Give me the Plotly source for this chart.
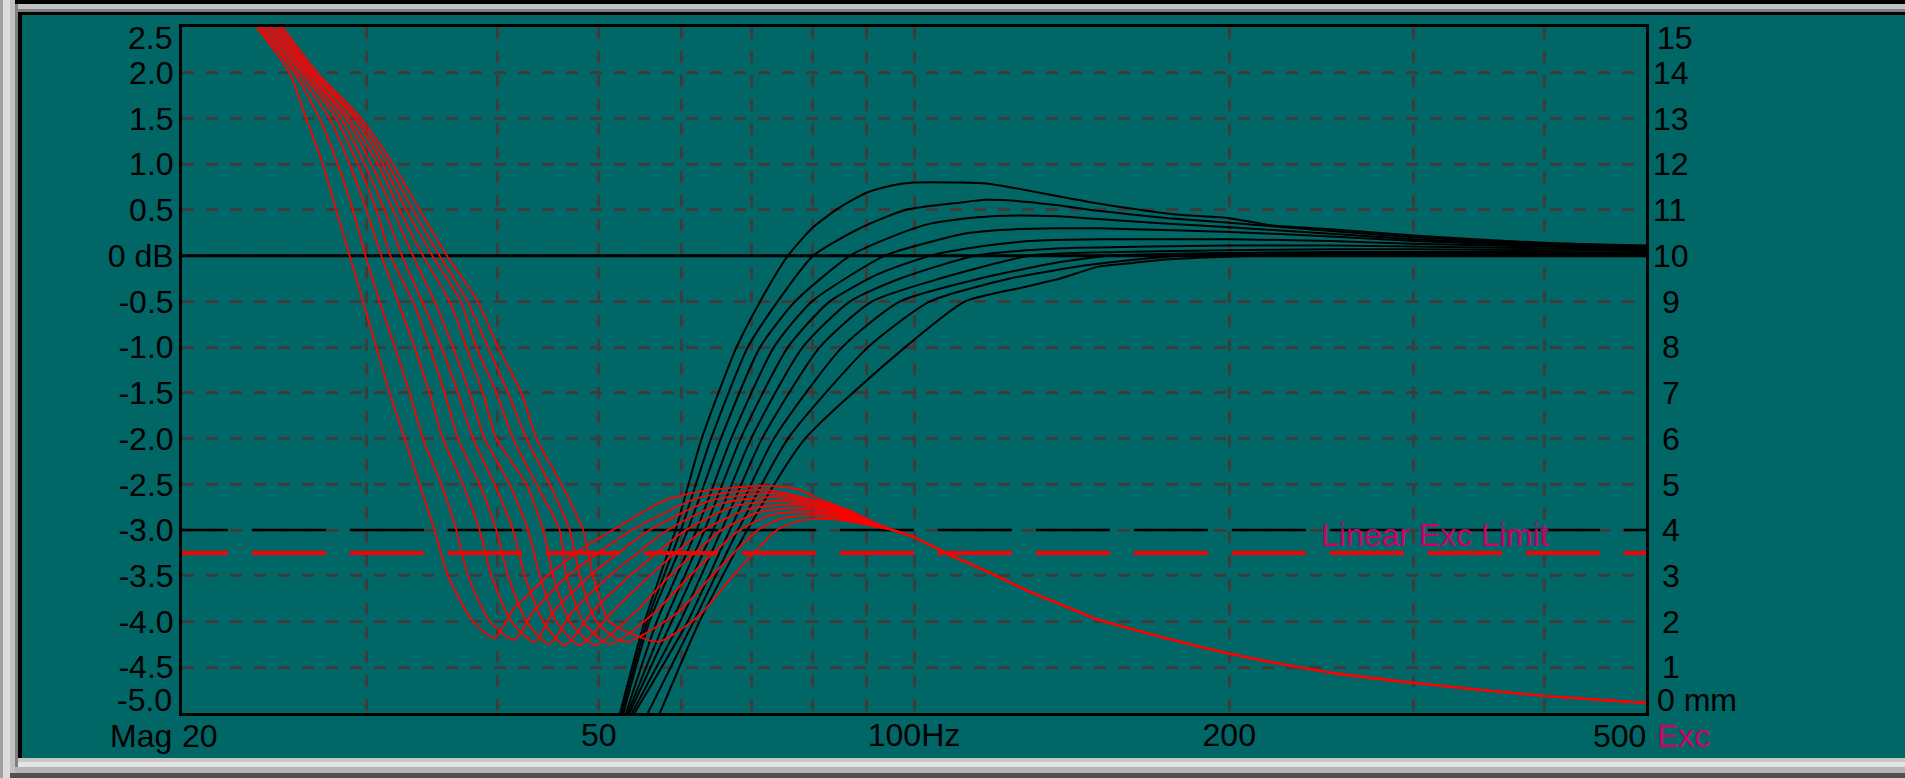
import math
import plotly.graph_objects as go

# ---------------- axes / ticks ----------------
freq_min, freq_max = 20, 500
grid_hz = [30, 40, 50, 60, 70, 80, 90, 100, 200, 300, 400]
grid_labels = ["", "", "50", "", "", "", "", "100Hz", "200", "", ""]
mag_range = [-5.0, 2.5]
mag_ticks = [2.0, 1.5, 1.0, 0.5, 0.0, -0.5, -1.0, -1.5, -2.0, -2.5, -3.0, -3.5, -4.0, -4.5]
mag_tick_labels = ["2.0", "1.5", "1.0", "0.5", "0 dB", "-0.5", "-1.0", "-1.5", "-2.0",
                   "-2.5", "-3.0", "-3.5", "-4.0", "-4.5"]
exc_range = [0, 15]
exc_ticks = [1, 2, 3, 4, 5, 6, 7, 8, 9, 10, 11, 12, 13, 14]
exc_tick_labels = ["\u00a01", "\u00a02", "\u00a03", "\u00a04", "\u00a05", "\u00a06", "\u00a07",
                   "\u00a08", "\u00a09", "10", "11", "12", "13", "14"]

# reference lines
mag_zero_db = 0.0
mag_ref_db = -3.0
exc_limit_mm = 3.5
ref_line_hz = [18.8, 500]

# ---------------- magnitude curves (dB) ----------------
mag_1_hz = [52.4, 55.3, 59.2, 62.7, 67.7, 71.3, 75.8, 80.1, 85.0, 90.2, 95.5, 100, 110.7, 117.4,
            124.6, 137.3, 150, 178, 200, 220, 250, 300, 400, 500]
mag_1_db = [-5.0, -4.0, -3.0, -2.0, -1.0, -0.5, 0.0, 0.31, 0.53, 0.69, 0.77, 0.80, 0.80, 0.79,
            0.74, 0.65, 0.57, 0.45, 0.41, 0.33, 0.29, 0.22, 0.14, 0.11]
mag_2_hz = [52.6, 55.6, 59.9, 64.0, 69.4, 74.1, 80.1, 88.8, 98.1, 110.7, 117.0, 124.6, 137.3, 150,
            175, 200, 250, 300, 400, 500]
mag_2_db = [-5.0, -4.0, -3.0, -2.0, -1.0, -0.5, 0.0, 0.30, 0.50, 0.58, 0.61, 0.60, 0.55, 0.49,
            0.41, 0.36, 0.27, 0.20, 0.13, 0.10]
mag_3_hz = [52.8, 55.9, 60.8, 65.4, 71.3, 77.0, 86.9, 94.9, 103.6, 115, 125, 137.3, 150, 175, 200,
            250, 300, 400, 500]
mag_3_db = [-5.0, -4.0, -3.0, -2.0, -1.0, -0.5, 0.0, 0.20, 0.35, 0.42, 0.44, 0.43, 0.40, 0.35, 0.31,
            0.24, 0.18, 0.12, 0.09]
mag_4_hz = [53.1, 56.8, 62.0, 66.9, 73.5, 79.9, 93.8, 103.6, 113.1, 125, 137, 150, 162, 200, 250,
            300, 400, 500]
mag_4_db = [-5.0, -4.0, -3.0, -2.0, -1.0, -0.5, 0.0, 0.15, 0.25, 0.29, 0.30, 0.30, 0.29, 0.26, 0.21,
            0.16, 0.11, 0.08]
mag_5_hz = [53.3, 57.8, 63.1, 68.3, 75.8, 83.1, 92.5, 103.6, 115.6, 129, 150, 175, 200, 250, 300,
            400, 500]
mag_5_db = [-5.0, -4.0, -3.0, -2.0, -1.0, -0.5, -0.2, 0.0, 0.10, 0.16, 0.18, 0.18, 0.18, 0.16, 0.13,
            0.10, 0.07]
mag_6_hz = [53.5, 58.7, 64.3, 69.9, 78.3, 86.9, 97.0, 114.4, 138, 168, 200, 250, 300, 400, 500]
mag_6_db = [-5.0, -4.0, -3.0, -2.0, -1.0, -0.5, -0.25, 0.0, 0.08, 0.10, 0.11, 0.11, 0.10, 0.08, 0.06]
mag_7_hz = [53.8, 59.8, 65.5, 71.6, 81.3, 91.2, 105.9, 129.1, 157, 200, 250, 300, 400, 500]
mag_7_db = [-5.0, -4.0, -3.0, -2.0, -1.0, -0.5, -0.25, 0.0, 0.04, 0.06, 0.07, 0.07, 0.06, 0.05]
mag_8_hz = [54.1, 60.8, 66.7, 73.5, 85.4, 97.0, 115.6, 137.9, 153.9, 200, 250, 300, 400, 500]
mag_8_db = [-5.0, -4.0, -3.0, -2.0, -1.0, -0.5, -0.25, -0.07, 0.0, 0.03, 0.04, 0.04, 0.04, 0.03]
mag_9_hz = [55.7, 61.6, 67.9, 75.8, 90.4, 103.6, 123.5, 147.3, 179.6, 250, 300, 400, 500]
mag_9_db = [-5.0, -4.0, -3.0, -2.0, -1.0, -0.5, -0.25, -0.10, 0.0, 0.02, 0.02, 0.02, 0.02]
mag_10_hz = [57.2, 62.4, 69.3, 78.7, 98.1, 111.9, 126.6, 137.9, 150, 161.9, 175, 214.6, 300, 400, 500]
mag_10_db = [-5.0, -4.0, -3.0, -2.0, -1.0, -0.5, -0.35, -0.25, -0.12, -0.08, -0.04, 0.0, 0.0, 0.01,
             0.01]

# ---------------- excursion curves (mm) ----------------
exc_1_hz = [23.56, 25.33, 26.28, 27.26, 28.07, 28.91, 29.77, 30.66, 31.57, 32.63, 33.72, 34.85, 35.89,
            37.92, 39.77, 41.41, 42.96, 44.57, 47.95, 51.56, 55.53, 58.03, 62.4, 68.19, 73.65, 77.82,
            80.1, 83.68, 87.44, 91.38, 95.5, 99.6]
exc_1_mm = [15, 14, 13, 12, 11, 10, 9, 8, 7, 6, 5, 4, 3, 2, 1.64, 2.26, 2.62, 2.98, 3.56, 4.0, 4.44,
            4.66, 4.84, 4.94, 4.96, 4.88, 4.74, 4.56, 4.40, 4.18, 4.0, 3.86]
exc_2_hz = [23.66, 25.61, 27.06, 28.17, 29.12, 29.94, 30.88, 31.92, 32.99, 33.97, 35.37, 36.56, 37.50,
            39.34, 41.56, 43.24, 46.70, 53.77, 62.17, 72.05, 85.0, 90.0, 95.5, 99.6]
exc_2_mm = [15, 14, 13, 12, 11, 10, 9, 8, 7, 6, 5, 4, 3, 2, 1.60, 2.2, 3.0, 4.0, 4.70, 4.88, 4.49,
            4.22, 4.0, 3.86]
exc_3_hz = [23.82, 25.78, 27.66, 28.91, 29.99, 31.00, 32.15, 33.35, 34.47, 35.50, 37.09, 38.48, 39.48,
            41.26, 43.44, 45.19, 49.02, 55.94, 63.83, 72.85, 85.0, 90.0, 95.5, 99.6]
exc_3_mm = [15, 14, 13, 12, 11, 10, 9, 8, 7, 6, 5, 4, 3, 2, 1.55, 2.2, 3.0, 4.0, 4.64, 4.80, 4.46,
            4.20, 4.0, 3.86]
exc_4_hz = [23.98, 26.01, 28.07, 29.44, 30.66, 31.62, 33.23, 34.47, 35.63, 36.69, 38.48, 39.92, 40.96,
            42.65, 44.89, 47.12, 51.22, 58.20, 65.47, 73.65, 85.0, 90.0, 95.5, 99.6]
exc_4_mm = [15, 14, 13, 12, 11, 10, 9, 8, 7, 6, 5, 4, 3, 2, 1.50, 2.2, 3.0, 4.0, 4.58, 4.72, 4.43,
            4.18, 4.0, 3.86]
exc_5_hz = [24.13, 26.18, 28.38, 29.88, 31.22, 32.43, 33.92, 35.37, 36.69, 37.92, 39.77, 41.41, 42.49,
            44.23, 46.40, 49.24, 53.53, 60.55, 67.15, 74.47, 85.0, 90.0, 95.5, 99.6]
exc_5_mm = [15, 14, 13, 12, 11, 10, 9, 8, 7, 6, 5, 4, 3, 2, 1.48, 2.2, 3.0, 4.0, 4.51, 4.64, 4.40,
            4.16, 4.0, 3.86]
exc_6_hz = [24.29, 26.36, 28.70, 30.32, 31.80, 33.23, 34.85, 36.29, 37.64, 38.91, 41.10, 42.80, 43.92,
            45.56, 47.95, 51.45, 55.94, 63.0, 69.3, 76.12, 85.0, 90.0, 95.5, 99.6]
exc_6_mm = [15, 14, 13, 12, 11, 10, 9, 8, 7, 6, 5, 4, 3, 2, 1.48, 2.2, 3.0, 4.0, 4.45, 4.56, 4.37,
            4.15, 4.0, 3.86]
exc_7_hz = [24.46, 26.47, 28.91, 30.77, 32.27, 33.97, 36.02, 37.37, 38.76, 39.92, 42.65, 44.23, 45.22,
            46.91, 49.56, 54.12, 58.46, 65.54, 70.95, 76.96, 85.0, 90.0, 95.5, 99.6]
exc_7_mm = [15, 14, 13, 12, 11, 10, 9, 8, 7, 6, 5, 4, 3, 2, 1.48, 2.2, 3.0, 4.0, 4.38, 4.48, 4.33,
            4.14, 4.0, 3.86]
exc_8_hz = [24.62, 26.65, 29.23, 31.11, 32.75, 34.68, 36.91, 38.20, 39.92, 41.41, 43.60, 45.89, 46.57,
            48.30, 51.22, 56.56, 61.09, 68.19, 72.85, 77.82, 85.0, 90.0, 95.5, 99.6]
exc_8_mm = [15, 14, 13, 12, 11, 10, 9, 8, 7, 6, 5, 4, 3, 2, 1.50, 2.2, 3.0, 4.0, 4.32, 4.40, 4.30,
            4.13, 4.0, 3.86]
exc_9_hz = [24.78, 26.76, 29.44, 31.45, 33.23, 35.24, 37.48, 39.19, 40.96, 42.65, 44.89, 46.91, 47.95,
            49.75, 52.94, 59.49, 64.12, 70.95, 74.96, 79.20, 85.0, 90.0, 95.5, 99.6]
exc_9_mm = [15, 14, 13, 12, 11, 10, 9, 8, 7, 6, 5, 4, 3, 2, 1.55, 2.2, 3.0, 4.0, 4.26, 4.32, 4.26,
            4.12, 4.0, 3.86]
exc_10_hz = [24.94, 26.94, 29.66, 31.80, 33.72, 35.81, 38.31, 40.06, 42.18, 43.60, 46.06, 48.30, 49.38,
             51.22, 57.0, 62.4, 67.15, 73.98, 77.31, 80.78, 85.0, 90.0, 95.5, 99.6]
exc_10_mm = [15, 14, 13, 12, 11, 10, 9, 8, 7, 6, 5, 4, 3, 2, 1.56, 2.14, 3.0, 4.0, 4.19, 4.24, 4.22,
             4.12, 4.0, 3.86]
# common high-frequency part shared by all excursion curves
exc_tail_hz = [104.3, 108.9, 113.8, 120.8, 129.9, 140.0, 148.3, 171, 200, 250, 300, 350, 407, 450, 500]
exc_tail_mm = [3.64, 3.42, 3.24, 2.96, 2.62, 2.32, 2.08, 1.68, 1.30, 0.88, 0.66, 0.50, 0.36, 0.29, 0.22]

# ---------------- styling ----------------
TEAL = "#006666"
GRID = "#3c3c3c"
MAGENTA = "#cc0066"
RED = "#ff0000"
FONT = "Liberation Sans, Arial, sans-serif"
W, H = 1905, 778
PL, PR, PT, PB = 182, 1646, 27, 713

mag_curves = [(mag_1_hz, mag_1_db), (mag_2_hz, mag_2_db), (mag_3_hz, mag_3_db), (mag_4_hz, mag_4_db),
              (mag_5_hz, mag_5_db), (mag_6_hz, mag_6_db), (mag_7_hz, mag_7_db), (mag_8_hz, mag_8_db),
              (mag_9_hz, mag_9_db), (mag_10_hz, mag_10_db)]
exc_curves = [(exc_1_hz, exc_1_mm), (exc_2_hz, exc_2_mm), (exc_3_hz, exc_3_mm), (exc_4_hz, exc_4_mm),
              (exc_5_hz, exc_5_mm), (exc_6_hz, exc_6_mm), (exc_7_hz, exc_7_mm), (exc_8_hz, exc_8_mm),
              (exc_9_hz, exc_9_mm), (exc_10_hz, exc_10_mm)]

fig = go.Figure()

# reference lines (drawn first, under the curves)
fig.add_trace(go.Scatter(x=ref_line_hz, y=[mag_zero_db] * 2, mode="lines",
                         line=dict(color="black", width=3), yaxis="y", hoverinfo="skip"))
fig.add_trace(go.Scatter(x=ref_line_hz, y=[mag_ref_db] * 2, mode="lines",
                         line=dict(color="black", width=2.5, dash="74px,24px"), yaxis="y",
                         hoverinfo="skip"))
fig.add_trace(go.Scatter(x=ref_line_hz, y=[exc_limit_mm] * 2, mode="lines",
                         line=dict(color=RED, width=4, dash="74px,24px"), yaxis="y2",
                         hoverinfo="skip"))

for hz, mm in exc_curves:
    fig.add_trace(go.Scatter(x=hz + exc_tail_hz, y=mm + exc_tail_mm, mode="lines", yaxis="y2",
                             line=dict(color=RED, width=1.8, shape="spline", smoothing=0.6)))
for hz, db in mag_curves:
    fig.add_trace(go.Scatter(x=hz, y=db, mode="lines", yaxis="y",
                             line=dict(color="black", width=2, shape="spline", smoothing=0.6)))


def px_x(px):
    return (px - PL) / (PR - PL)


def px_y(py):
    return (PB - py) / (PB - PT)


def rect(x0, x1, y0, y1, color):
    fig.add_shape(type="rect", xref="paper", yref="paper", x0=px_x(x0), x1=px_x(x1),
                  y0=px_y(y1), y1=px_y(y0), fillcolor=color, line=dict(width=0), layer="above")


# window frame
rect(0, W, 0, 4, "#000000")
rect(0, W, 4, 9, "#c0c0c0")
rect(0, W, 9, 12, "#808080")
rect(0, W, 12, 15, "#000000")
rect(0, W, 758, 762, "#c8c8c8")
rect(0, W, 762, 767, "#e4e4e4")
rect(0, W, 767, 773, "#b4b4b4")
rect(0, W, 773, H, "#505050")
rect(0, 3, 0, H, "#a0a0a0")
rect(3, 10, 0, H, "#dcdcdc")
rect(10, 15, 0, 773, "#c0c0c0")
rect(15, 18, 4, 767, "#808080")
rect(18, 22, 12, 758, "#000000")

label_font = dict(family=FONT, size=32, color="black")
ann = []
# edge tick labels (pulled inside like the original)
ann.append(dict(text="2.5", xref="paper", x=0, xanchor="right", xshift=-8, yref="y", y=mag_range[1],
                yanchor="middle", yshift=-11, showarrow=False, font=label_font))
ann.append(dict(text="-5.0", xref="paper", x=0, xanchor="right", xshift=-8, yref="y", y=mag_range[0],
                yanchor="middle", yshift=13, showarrow=False, font=label_font))
ann.append(dict(text="15", xref="paper", x=1, xanchor="left", xshift=9, yref="y2", y=exc_range[1],
                yanchor="middle", yshift=-11, showarrow=False, font=label_font))
ann.append(dict(text="0 mm", xref="paper", x=1, xanchor="left", xshift=9, yref="y2", y=exc_range[0],
                yanchor="middle", yshift=13, showarrow=False, font=label_font))
ann.append(dict(text="20", xref="x", x=math.log10(freq_min), xanchor="left", xshift=-2,
                yref="paper", y=0, yanchor="middle", yshift=-23, showarrow=False, font=label_font))
ann.append(dict(text="500", xref="x", x=math.log10(freq_max), xanchor="right", xshift=2,
                yref="paper", y=0, yanchor="middle", yshift=-23, showarrow=False, font=label_font))
ann.append(dict(text="Mag", xref="x", x=math.log10(freq_min), xanchor="right", xshift=-8,
                yref="paper", y=0, yanchor="middle", yshift=-23, showarrow=False, font=label_font))
ann.append(dict(text="Exc", xref="paper", x=1, xanchor="left", xshift=9,
                yref="paper", y=0, yanchor="middle", yshift=-23, showarrow=False,
                font=dict(family=FONT, size=32, color=MAGENTA)))
ann.append(dict(text="Linear Exc Limit", xref="x", x=math.log10(400), xanchor="right", xshift=6,
                yref="y2", y=4, yanchor="middle", yshift=-5, showarrow=False,
                font=dict(family=FONT, size=32, color=MAGENTA)))

fig.update_layout(
    template="none",
    width=W, height=H,
    margin=dict(l=PL, r=W - PR, t=PT, b=H - PB, pad=0, autoexpand=False),
    paper_bgcolor=TEAL, plot_bgcolor=TEAL,
    showlegend=False,
    font=label_font,
    annotations=ann,
    xaxis=dict(type="log", range=[math.log10(freq_min), math.log10(freq_max)],
               tickmode="array", tickvals=grid_hz, ticktext=grid_labels,
               showgrid=True, gridcolor=GRID, gridwidth=3, griddash="12px,12px",
               showline=True, linecolor="black", linewidth=3, mirror=True,
               ticks="", zeroline=False, automargin=False, ticklabelstandoff=-8,
               tickfont=label_font),
    yaxis=dict(range=mag_range, tickmode="array", tickvals=mag_ticks, ticktext=mag_tick_labels,
               showgrid=True, gridcolor=GRID, gridwidth=3, griddash="12px,12px",
               showline=True, linecolor="black", linewidth=3, mirror=True,
               ticks="", zeroline=False, automargin=False, ticklabelstandoff=-1,
               tickfont=label_font),
    yaxis2=dict(range=exc_range, overlaying="y", side="right", tickmode="array",
                tickvals=exc_ticks, ticktext=exc_tick_labels, showgrid=False, zeroline=False,
                showline=False, ticks="", automargin=False, ticklabelstandoff=6,
                tickfont=label_font),
)

fig.write_html("out.html", config={"displayModeBar": False},
               post_script="document.body.style.margin='0px';document.body.style.overflow='hidden';")
